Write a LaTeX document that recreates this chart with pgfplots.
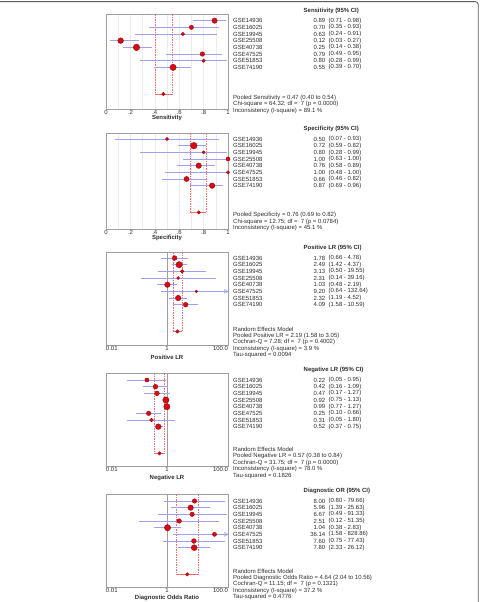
\documentclass[border=0pt]{standalone}
\usepackage{pgfplots}
\usepackage{pgfplotstable}
\pgfplotsset{compat=1.18}
\usepackage{fontspec}
\setmainfont{Liberation Sans}
\definecolor{mred}{RGB}{212,10,20}
\definecolor{mdark}{RGB}{150,0,10}
\definecolor{cil}{RGB}{160,160,238}
\definecolor{dred}{RGB}{240,110,110}
\definecolor{txt}{RGB}{45,45,45}
\definecolor{frm}{RGB}{90,90,90}
\newcommand{\fs}{\fontsize{6}{7}\selectfont}

\pgfplotsset{
 fp/.style={scale only axis, width=122bp, y dir=reverse, clip=false,
   axis line style={gray!75, line width=0.5bp},
   ytick=\empty, major tick length=0pt, minor tick length=0pt,
   xticklabel style={font=\fs, text=txt, inner sep=0pt, yshift=-0.9bp},
   xlabel style={font=\fs\bfseries, text=txt, at={(axis description cs:0.5,0)}, anchor=center}},
 linx/.style={xmin=0, xmax=1, xtick={0,0.2,0.4,0.6,0.8,1}, xticklabels={0,.2,.4,.6,.8,1},
   minor xtick={0.1,0.3,0.5,0.7,0.9}, grid=both,
   major grid style={gray!15, line width=0.4bp}, minor grid style={gray!15, line width=0.4bp}},
 logx/.style={xmin=0.01, xmax=100, xtick={0.01,1,100},
   xticklabels={\makebox[0pt][l]{0.01},1,\makebox[0pt][r]{100.0}}},
 ciplot/.style={draw=none, mark=none, forget plot, error bars/.cd, x dir=both, x explicit,
   error mark=none, error bar style={cil, line width=0.6bp}},
 dsh/.style={dred, line width=0.4bp, dash pattern=on 1.5bp off 1bp},
 pl/.style={dred, line width=0.5bp},
 mk/.style={only marks, scatter, mark=*,
   scatter/use mapped color={draw=mdark, fill=mred},
   visualization depends on={\thisrow{r} \as \rr},
   scatter/@pre marker code/.append style={/tikz/mark size=\rr bp},
   mark options={line width=0.3bp}},
 pm/.style={only marks, mark=*, mark size=1.8bp, mark options={draw=mdark, fill=mred, line width=0.3bp}},
 arr/.style={only marks, mark=triangle, mark size=2.2bp, mark options={cil, line width=0.5bp, rotate=-90, yshift=-2.2bp}},
}

\pgfplotstableread{
row est lo hi r
1 0.89 0.71 0.98 2.7
2 0.70 0.35 0.93 2.2
3 0.63 0.24 0.91 1.8
4 0.12 0.03 0.27 2.9
5 0.25 0.14 0.38 3.3
6 0.79 0.49 0.95 2.3
7 0.80 0.28 0.99 1.8
8 0.55 0.39 0.70 3.2
}\sens
\pgfplotstableread{
row est lo hi r
1 0.50 0.07 0.93 1.6
2 0.72 0.59 0.82 3.3
3 0.80 0.28 0.99 1.6
4 1.00 0.63 1.00 2.1
5 0.76 0.58 0.89 2.8
6 1.00 0.48 1.00 1.8
7 0.66 0.46 0.82 2.6
8 0.87 0.69 0.96 2.8
}\spec
\pgfplotstableread{
row est lo hi r
1 1.78 0.66 4.78 2.4
2 2.49 1.42 4.37 3.2
3 3.13 0.50 19.55 1.9
4 2.31 0.14 39.16 1.6
5 1.03 0.48 2.19 2.8
6 9.20 0.64 132.64 1.4
7 2.32 1.19 4.52 2.8
8 4.09 1.58 10.59 2.4
}\plr
\pgfplotstableread{
row est lo hi r
1 0.22 0.05 0.95 2.1
2 0.42 0.16 1.09 2.4
3 0.47 0.17 1.27 2.4
4 0.92 0.75 1.13 3.2
5 0.99 0.77 1.27 3.2
6 0.25 0.10 0.66 2.3
7 0.31 0.05 1.80 1.9
8 0.52 0.37 0.75 2.9
}\nlr
\pgfplotstableread{
row est lo hi r
1 8.00 0.80 79.66 2.3
2 5.96 1.39 25.63 2.8
3 6.67 0.49 91.33 2.3
4 2.51 0.12 51.35 2.3
5 1.04 0.38 2.83 3.2
6 36.14 1.58 828.86 2.1
7 7.60 0.75 77.43 2.4
8 7.80 2.33 26.12 3.0
}\dor

\newcommand{\ciplt}[1]{\addplot[ciplot] table[x=est, y=row,
  x error plus expr={min(\thisrow{hi},100)-\thisrow{est}},
  x error minus expr={\thisrow{est}-\thisrow{lo}}] #1;}

\newcommand{\rows}[2]{%
 \foreach \nm/\va/\cc [count=\i from 0] in {#2}{%
   \pgfmathsetmacro\yy{-(#1+6.67*\i)}%
   \node[t,anchor=west] at (233bp,\yy bp) {\nm};
   \node[t,anchor=east] at (325.5bp,\yy bp) {\va};
   \node[t,anchor=west] at (328.5bp,\yy bp) {\cc};
 }}
\newcommand{\foot}[2]{%
 \foreach \ln [count=\i from 0] in {#2}{%
   \pgfmathsetmacro\yy{-(#1+6.6*\i)}%
   \node[t,anchor=west] at (233bp,\yy bp) {\ln};
 }}
\newcommand{\head}[2]{\node[t,anchor=west,font=\fs\bfseries] at (303.5bp,-#1bp) {#2};}

\begin{document}
\begin{tikzpicture}[t/.style={font=\fs, text=txt, inner sep=0pt}]
\draw[frm, line width=0.8bp, rounded corners=3bp] (-5bp,-1.6bp) -- (478.3bp,-1.6bp) -- (478.3bp,-610bp);

% ---------- Panel 1: Sensitivity
\begin{axis}[fp, linx, at={(106bp,-109bp)}, anchor=south west, height=95bp,
  ymin=0, ymax=14.24, xlabel={Sensitivity}, xlabel style={yshift=-9.3bp}]
\addplot[dsh] coordinates {(0.40,0) (0.40,12)};
\addplot[dsh] coordinates {(0.54,0) (0.54,12)};
\addplot[pl] coordinates {(0.40,12) (0.54,12)};
\ciplt{\sens}
\addplot[mk] table[x=est, y=row] \sens;
\addplot[pm] coordinates {(0.47,12)};
\end{axis}
\head{11}{Sensitivity (95\% CI)}
\rows{20.7}{GSE14936/0.89/(0.71 - 0.98), GSE16025/0.70/(0.35 - 0.93), GSE19945/0.63/(0.24 - 0.91), GSE25508/0.12/(0.03 - 0.27), GSE40738/0.25/(0.14 - 0.38), GSE47525/0.79/(0.49 - 0.95), GSE51853/0.80/(0.28 - 0.99), GSE74190/0.55/(0.39 - 0.70)}
\foot{97.7}{Pooled Sensitivity = 0.47 (0.40 to 0.54), Chi-square = 64.32; df =\ \ 7 (p = 0.0000), Inconsistency (I-square) = 89.1 \%}

% ---------- Panel 2: Specificity
\begin{axis}[fp, linx, at={(106bp,-229bp)}, anchor=south west, height=96bp,
  ymin=0.1, ymax=14.5, xlabel={Specificity}, xlabel style={yshift=-9.3bp}]
\addplot[dsh] coordinates {(0.69,0.1) (0.69,12)};
\addplot[dsh] coordinates {(0.82,0.1) (0.82,12)};
\addplot[pl] coordinates {(0.69,12) (0.82,12)};
\ciplt{\spec}
\addplot[mk] table[x=est, y=row] \spec;
\addplot[pm] coordinates {(0.76,12)};
\end{axis}
\head{129.3}{Specificity (95\% CI)}
\rows{139.2}{GSE14936/0.50/(0.07 - 0.93), GSE16025/0.72/(0.59 - 0.82), GSE19945/0.80/(0.28 - 0.99), GSE25508/1.00/(0.63 - 1.00), GSE40738/0.76/(0.58 - 0.89), GSE47525/1.00/(0.48 - 1.00), GSE51853/0.66/(0.46 - 0.82), GSE74190/0.87/(0.69 - 0.96)}
\foot{215}{Pooled Specificity = 0.76 (0.69 to 0.82), Chi-square = 12.75; df =\ \ 7 (p = 0.0784), Inconsistency (I-square) = 45.1 \%}

% ---------- Panel 3: Positive LR
\begin{axis}[xmode=log, fp, logx, at={(106bp,-345bp)}, anchor=south west, height=93bp,
  ymin=0.1, ymax=14.04, xlabel={Positive LR}, xlabel style={yshift=-12bp}]
\addplot[gray!75, line width=0.6bp] coordinates {(1,0.1) (1,14.04)};
\addplot[dsh] coordinates {(1.58,0.1) (1.58,12)};
\addplot[dsh] coordinates {(3.05,0.1) (3.05,12)};
\addplot[pl] coordinates {(1.58,12) (3.05,12)};
\ciplt{\plr}
\addplot[arr] coordinates {(100,6)};
\addplot[mk] table[x=est, y=row] \plr;
\addplot[pm] coordinates {(2.19,12)};
\end{axis}
\head{248.3}{Positive LR (95\% CI)}
\rows{258}{GSE14936/1.78/(0.66 - 4.78), GSE16025/2.49/(1.42 - 4.37), GSE19945/3.13/(0.50 - 19.55), GSE25508/2.31/(0.14 - 39.16), GSE40738/1.03/(0.48 - 2.19), GSE47525/9.20/(0.64 - 132.64), GSE51853/2.32/(1.19 - 4.52), GSE74190/4.09/(1.58 - 10.59)}
\foot{329}{Random Effects Model, Pooled Positive LR = 2.19 (1.58 to 3.05), Cochran-Q = 7.28; df =\ \ 7 (p = 0.4002), Inconsistency (I-square) = 3.9 \%, Tau-squared = 0.0094}

% ---------- Panel 4: Negative LR
\begin{axis}[xmode=log, fp, logx, at={(106bp,-466bp)}, anchor=south west, height=93bp,
  ymin=-0.05, ymax=13.9, xlabel={Negative LR}, xlabel style={yshift=-12bp}]
\addplot[gray!75, line width=0.6bp] coordinates {(1,-0.05) (1,13.9)};
\addplot[dsh] coordinates {(0.38,-0.05) (0.38,12)};
\addplot[dsh] coordinates {(0.84,-0.05) (0.84,12)};
\addplot[pl] coordinates {(0.38,12) (0.84,12)};
\ciplt{\nlr}
\addplot[mk] table[x=est, y=row] \nlr;
\addplot[pm] coordinates {(0.57,12)};
\end{axis}
\head{370}{Negative LR (95\% CI)}
\rows{380}{GSE14936/0.22/(0.05 - 0.95), GSE16025/0.42/(0.16 - 1.09), GSE19945/0.47/(0.17 - 1.27), GSE25508/0.92/(0.75 - 1.13), GSE40738/0.99/(0.77 - 1.27), GSE47525/0.25/(0.10 - 0.66), GSE51853/0.31/(0.05 - 1.80), GSE74190/0.52/(0.37 - 0.75)}
\foot{449.3}{Random Effects Model, Pooled Negative LR = 0.57 (0.38 to 0.84), Cochran-Q = 31.75; df =\ \ 7 (p = 0.0000), Inconsistency (I-square) = 78.0 \%, Tau-squared = 0.1826}

% ---------- Panel 5: Diagnostic OR
\begin{axis}[xmode=log, fp, logx, at={(106bp,-587bp)}, anchor=south west, height=93bp,
  ymin=-0.05, ymax=13.9, xlabel={Diagnostic Odds Ratio}, xlabel style={yshift=-11bp}]
\addplot[gray!75, line width=0.6bp] coordinates {(1,-0.05) (1,13.9)};
\addplot[dsh] coordinates {(2.04,-0.05) (2.04,12)};
\addplot[dsh] coordinates {(10.56,-0.05) (10.56,12)};
\addplot[pl] coordinates {(2.04,12) (10.56,12)};
\ciplt{\dor}
\addplot[arr] coordinates {(100,6)};
\addplot[mk] table[x=est, y=row] \dor;
\addplot[pm] coordinates {(4.64,12)};
\end{axis}
\head{490.7}{Diagnostic OR (95\% CI)}
\rows{501}{GSE14936/8.00/(0.80 - 79.66), GSE16025/5.96/(1.39 - 25.63), GSE19945/6.67/(0.49 - 91.33), GSE25508/2.51/(0.12 - 51.35), GSE40738/1.04/(0.38 - 2.83), GSE47525/36.14/(1.58 - 828.86), GSE51853/7.60/(0.75 - 77.43), GSE74190/7.80/(2.33 - 26.12)}
\foot{571}{Random Effects Model, Pooled Diagnostic Odds Ratio = 4.64 (2.04 to 10.56), Cochran-Q = 11.15; df =\ \ 7 (p = 0.1321), Inconsistency (I-square) = 37.2 \%, Tau-squared = 0.4776}

\pgfresetboundingbox
\useasboundingbox (0,0) rectangle (491bp,-602bp);
\end{tikzpicture}
\end{document}
